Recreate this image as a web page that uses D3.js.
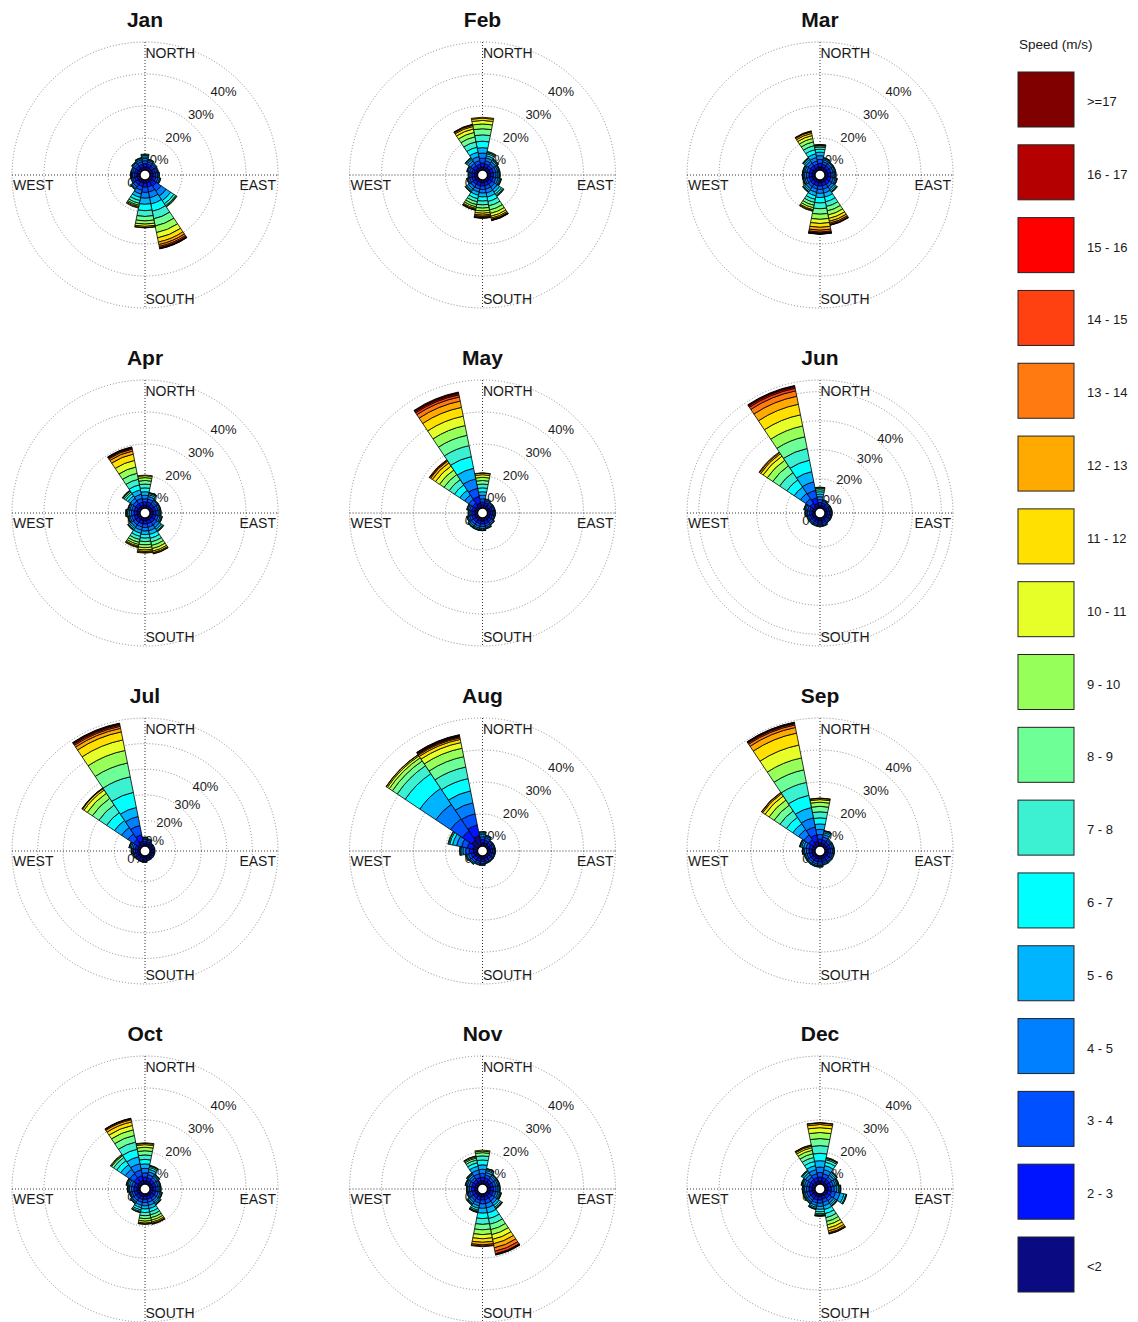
<!DOCTYPE html>
<html>
<head>
<meta charset="utf-8">
<script src="https://cdn.jsdelivr.net/npm/d3@7"></script>
<style>
  body { margin: 0; background: #fff; }
  svg { display: block; font-family: "Liberation Sans", Arial, sans-serif; }
</style>
</head>
<body>
<svg id="chart" width="1138" height="1322"></svg>
<script>
// Monthly wind roses: frequency (%) per direction sector, stacked by speed class.
const months = ["Jan", "Feb", "Mar", "Apr", "May", "Jun", "Jul", "Aug", "Sep", "Oct", "Nov", "Dec"];
const directions = ["N", "NNE", "NE", "ENE", "E", "ESE", "SE", "SSE", "S", "SSW", "SW", "WSW", "W", "WNW", "NW", "NNW"];
const speedLabels = ["<2", "2 - 3", "3 - 4", "4 - 5", "5 - 6", "6 - 7", "7 - 8", "8 - 9", "9 - 10",
                     "10 - 11", "11 - 12", "12 - 13", "13 - 14", "14 - 15", "15 - 16", "16 - 17", ">=17"];
const speedColors = ["#0a0a82", "#0014ff", "#0050ff", "#0080ff", "#00b4ff", "#00ffff", "#3cf0d2", "#6eff96", "#96ff5a",
                     "#e6ff28", "#ffe000", "#ffaa00", "#ff7a10", "#ff4010", "#ff0000", "#b40000", "#800000"];
const ringTicks = [0, 10, 20, 30, 40];
const compassLabels = ["NORTH", "SOUTH", "WEST", "EAST"];
// Frequency at the outer circle of each rose
const outerPct = [40, 40, 40, 40, 40, 44, 50, 40, 40, 40, 40, 40];

// Per month: 16 sectors (N, NNE, ... NNW), each listing % per speed class from "<2" upward
const jan = [
  [1.0,1.0,0.9,0.7,0.5,0.4,0.3,0.2],
  [1.0,0.9,0.7,0.5,0.3,0.1],
  [1.0,0.8,0.6,0.4,0.2],
  [1.0,0.8,0.5,0.3,0.2],
  [1.0,0.8,0.6,0.4,0.2],
  [1.0,0.9,0.7,0.5,0.3,0.1],
  [1.2,1.5,1.8,1.9,1.7,1.2,0.7,0.3,0.2],
  [1.0,1.3,1.6,1.8,2.0,2.3,2.4,2.3,2.1,1.7,1.3,0.8,0.6,0.4,0.2,0.1,0.1],
  [1.0,1.3,1.6,1.8,1.9,2.0,1.8,1.4,1.0,0.7,0.4,0.1],
  [1.0,1.1,1.2,1.2,1.1,1.0,0.9,0.6,0.4,0.3,0.2],
  [1.1,1.0,0.8,0.6,0.3,0.2],
  [1.0,0.8,0.6,0.4,0.2],
  [1.0,0.8,0.6,0.3,0.2,0.1],
  [1.0,0.8,0.6,0.4,0.2],
  [1.0,0.9,0.7,0.5,0.3,0.1],
  [1.0,0.9,0.8,0.6,0.4,0.2,0.1]
];
const feb = [
  [1.0,1.2,1.5,1.6,1.7,2.0,2.0,1.9,1.5,1.1,0.7,0.3],
  [1.0,1.0,1.0,0.9,0.7,0.6,0.4,0.2,0.2],
  [1.0,0.9,0.8,0.7,0.5,0.3,0.2,0.1],
  [1.0,0.9,0.8,0.6,0.4,0.2,0.1],
  [1.0,0.9,0.8,0.6,0.4,0.2,0.1],
  [1.0,0.9,0.8,0.7,0.5,0.3,0.2,0.1],
  [1.0,1.0,1.0,1.0,0.9,0.7,0.5,0.3,0.1],
  [0.9,1.0,1.1,1.2,1.3,1.4,1.4,1.3,1.1,0.9,0.6,0.4,0.2,0.1,0.1],
  [0.9,1.0,1.1,1.1,1.2,1.3,1.2,1.0,0.9,0.7,0.6,0.4,0.3,0.2,0.1],
  [0.9,1.0,1.0,1.0,1.0,1.1,1.0,0.9,0.7,0.5,0.3,0.2,0.1],
  [1.0,1.0,0.9,0.8,0.6,0.4,0.2,0.1],
  [1.0,0.9,0.7,0.5,0.3,0.1],
  [1.0,0.8,0.6,0.4,0.2],
  [1.0,0.9,0.7,0.5,0.3,0.1],
  [1.0,1.0,0.9,0.8,0.6,0.4,0.2,0.1],
  [0.9,1.0,1.1,1.3,1.4,1.6,1.7,1.6,1.4,1.1,0.8,0.4,0.2,0.1]
];
const mar = [
  [1.0,1.1,1.2,1.2,1.1,0.9,0.7,0.4,0.2,0.1,0.1],
  [1.0,0.9,0.8,0.6,0.4,0.2,0.1],
  [1.0,0.9,0.7,0.5,0.3,0.1],
  [1.0,0.9,0.7,0.5,0.3,0.1],
  [1.0,0.9,0.7,0.5,0.3,0.1],
  [1.0,0.9,0.8,0.6,0.4,0.2,0.1],
  [1.0,1.0,0.9,0.8,0.6,0.4,0.2,0.1],
  [0.9,1.0,1.1,1.2,1.3,1.5,1.5,1.4,1.3,1.1,0.9,0.6,0.4,0.2,0.1],
  [0.9,1.0,1.1,1.2,1.3,1.7,1.8,1.7,1.6,1.3,1.2,0.9,0.6,0.3,0.2,0.1,0.1],
  [0.9,1.0,1.0,1.1,1.1,1.1,1.0,0.9,0.8,0.6,0.3,0.2],
  [1.0,1.0,0.9,0.8,0.6,0.4,0.2,0.1],
  [1.0,0.9,0.8,0.6,0.4,0.2,0.1],
  [1.0,0.9,0.8,0.6,0.4,0.2,0.1],
  [1.0,0.9,0.8,0.6,0.4,0.2,0.1],
  [1.0,1.0,0.9,0.8,0.6,0.4,0.2,0.1],
  [0.9,1.0,1.0,1.1,1.2,1.3,1.3,1.2,1.1,0.9,0.7,0.5,0.2,0.1]
];
const apr = [
  [0.9,1.0,1.0,1.1,1.1,1.2,1.2,1.1,0.9,0.6,0.2],
  [1.0,1.0,0.9,0.8,0.6,0.4,0.2,0.1],
  [1.0,0.9,0.7,0.5,0.3,0.1],
  [1.0,0.9,0.7,0.5,0.3,0.1],
  [1.0,0.9,0.7,0.5,0.3,0.1],
  [1.0,0.9,0.8,0.6,0.4,0.2,0.1],
  [1.0,1.0,1.0,0.9,0.7,0.5,0.3,0.1],
  [0.9,1.0,1.1,1.1,1.2,1.2,1.2,1.1,1.0,0.8,0.5,0.3,0.1],
  [0.9,1.0,1.1,1.1,1.1,1.1,1.1,1.0,0.9,0.7,0.5,0.3,0.2],
  [0.9,1.0,1.0,1.0,1.0,1.0,1.0,0.9,0.7,0.5,0.3,0.2],
  [1.0,1.0,0.9,0.8,0.6,0.4,0.2,0.1],
  [1.0,0.9,0.8,0.6,0.4,0.2,0.1],
  [1.0,0.9,0.8,0.7,0.5,0.3,0.2,0.1],
  [1.0,0.9,0.8,0.6,0.4,0.2,0.1],
  [1.0,1.0,1.0,1.0,0.9,0.8,0.6,0.4,0.2,0.1],
  [0.9,1.0,1.2,1.3,1.4,1.6,1.8,1.9,2.0,2.1,2.0,1.0,0.6,0.3,0.2,0.1,0.1]
];
const may = [
  [0.9,1.0,1.0,1.1,1.1,1.2,1.2,1.1,1.0,0.8,0.5,0.1],
  [1.0,0.8,0.6,0.4,0.2],
  [0.9,0.7,0.5,0.3,0.1],
  [0.9,0.7,0.5,0.3,0.1],
  [0.9,0.7,0.5,0.3,0.1],
  [0.9,0.7,0.5,0.3,0.1],
  [1.0,0.8,0.6,0.4,0.2],
  [1.0,0.9,0.7,0.5,0.3,0.1],
  [1.0,0.9,0.8,0.6,0.4,0.2,0.1],
  [1.0,0.9,0.8,0.6,0.4,0.2,0.1],
  [1.0,0.9,0.8,0.6,0.4,0.2,0.1],
  [1.0,0.9,0.7,0.5,0.3,0.1],
  [1.0,0.8,0.6,0.4,0.2],
  [1.0,0.9,0.7,0.5,0.3,0.1],
  [1.0,1.2,1.4,1.6,1.8,2.0,2.0,1.9,1.7,1.5,1.2,0.7,0.3,0.2],
  [1.6,2.1,2.6,3.0,3.4,3.7,3.5,3.3,3.1,3.0,2.8,2.0,1.3,0.7,0.4,0.3,0.2]
];
const jun = [
  [0.9,1.0,1.0,1.0,0.9,0.8,0.7,0.5,0.3,0.1],
  [1.0,0.8,0.6,0.4,0.2],
  [0.9,0.7,0.5,0.3,0.1],
  [0.9,0.7,0.5,0.3,0.1],
  [0.9,0.7,0.5,0.3,0.1],
  [0.9,0.7,0.5,0.3,0.1],
  [0.9,0.7,0.5,0.3,0.1],
  [1.0,0.8,0.6,0.4,0.2],
  [1.0,0.8,0.6,0.4,0.2],
  [1.0,0.8,0.6,0.4,0.2],
  [1.0,0.8,0.6,0.4,0.2],
  [1.0,0.8,0.6,0.4,0.2],
  [1.0,0.9,0.7,0.5,0.3,0.1],
  [1.0,0.9,0.8,0.6,0.4,0.2,0.1],
  [1.0,1.4,1.8,2.2,2.6,3.0,3.0,2.8,2.3,1.7,1.0,0.5,0.2],
  [1.6,2.0,2.6,3.0,3.6,4.0,4.1,4.1,3.8,3.9,3.7,2.8,1.9,0.9,0.5,0.3,0.2]
];
const jul = [
  [1.0,0.9,0.7,0.5,0.3,0.1],
  [1.0,0.8,0.6,0.4,0.2],
  [0.8,0.6,0.4,0.2],
  [0.8,0.6,0.4,0.2],
  [0.8,0.6,0.4,0.2],
  [0.8,0.6,0.4,0.2],
  [0.8,0.6,0.4,0.2],
  [0.8,0.6,0.4,0.2],
  [0.9,0.7,0.5,0.3,0.1],
  [0.9,0.7,0.5,0.3,0.1],
  [0.9,0.7,0.5,0.3,0.1],
  [1.0,0.8,0.6,0.4,0.2],
  [1.0,0.9,0.7,0.5,0.3,0.1],
  [1.0,1.0,0.9,0.7,0.5,0.3,0.1],
  [1.5,2.0,2.6,3.0,3.3,3.7,3.6,3.1,2.4,1.5,0.7,0.2,0.1],
  [2.0,2.5,3.7,3.6,3.6,6.0,6.2,5.5,5.0,4.2,3.2,1.4,0.8,0.5,0.4,0.2,0.2]
];
const aug = [
  [1.0,1.0,0.9,0.7,0.5,0.3,0.1],
  [1.0,0.9,0.7,0.5,0.3,0.1],
  [0.9,0.7,0.5,0.3,0.1],
  [0.9,0.7,0.5,0.3,0.1],
  [0.9,0.7,0.5,0.3,0.1],
  [0.9,0.7,0.5,0.3,0.1],
  [0.9,0.7,0.5,0.3,0.1],
  [0.9,0.7,0.5,0.3,0.1],
  [1.0,0.8,0.6,0.4,0.2],
  [1.0,0.8,0.6,0.4,0.2],
  [1.0,0.9,0.7,0.5,0.3,0.1],
  [1.1,1.0,0.8,0.6,0.3,0.2],
  [1.3,1.3,1.1,0.9,0.6,0.3,0.1],
  [1.5,1.8,1.8,1.6,1.3,0.9,0.4,0.2],
  [2.5,3.5,4.5,5.5,6.0,5.5,3.0,1.8,1.2,0.7,0.4,0.1],
  [3.3,3.4,3.6,3.5,3.8,3.9,3.7,3.3,2.7,1.8,1.0,0.5,0.3,0.2,0.2,0.2,0.1]
];
const sep = [
  [1.0,1.2,1.4,1.6,1.7,1.9,1.9,1.7,1.3,0.8,0.4,0.1],
  [1.0,1.0,0.9,0.8,0.6,0.4,0.2,0.1],
  [1.0,0.8,0.6,0.4,0.2],
  [1.0,0.8,0.6,0.4,0.2],
  [1.0,0.8,0.6,0.4,0.2],
  [1.0,0.8,0.6,0.4,0.2],
  [1.0,0.8,0.6,0.4,0.2],
  [1.0,0.8,0.6,0.4,0.2],
  [1.0,0.9,0.7,0.5,0.3,0.1],
  [1.0,0.9,0.7,0.5,0.3,0.1],
  [1.0,0.9,0.7,0.5,0.3,0.1],
  [1.0,0.9,0.7,0.5,0.3,0.1],
  [1.0,0.9,0.8,0.6,0.4,0.2,0.1],
  [1.0,1.0,0.9,0.8,0.6,0.4,0.2,0.1],
  [1.2,1.5,1.8,2.0,2.2,2.4,2.4,2.2,1.9,1.5,0.9,0.4,0.1],
  [1.6,2.0,2.5,2.9,3.3,3.9,4.1,4.0,3.8,4.1,3.8,1.8,0.8,0.4,0.2,0.2,0.1]
];
const oct = [
  [1.0,1.2,1.3,1.4,1.4,1.4,1.4,1.3,1.1,0.8,0.4,0.2],
  [1.0,1.0,1.0,0.9,0.8,0.6,0.4,0.2,0.1],
  [1.0,0.9,0.8,0.6,0.4,0.2,0.1],
  [1.0,0.9,0.7,0.5,0.3,0.1],
  [1.0,0.9,0.7,0.5,0.3,0.1],
  [1.0,0.9,0.8,0.6,0.4,0.2,0.1],
  [1.0,0.9,0.8,0.7,0.5,0.3,0.2,0.1],
  [0.8,0.9,1.0,1.0,1.0,1.0,1.0,0.9,0.8,0.6,0.4,0.2,0.1],
  [0.8,0.9,1.0,1.0,1.0,1.1,1.0,0.9,0.8,0.6,0.3,0.1],
  [0.9,0.9,0.9,0.9,0.8,0.7,0.5,0.3,0.1],
  [1.0,0.9,0.8,0.6,0.4,0.2,0.1],
  [1.0,0.9,0.7,0.5,0.3,0.1],
  [1.0,0.9,0.8,0.6,0.4,0.2,0.1],
  [1.0,0.9,0.8,0.7,0.5,0.3,0.2,0.1],
  [1.2,1.4,1.6,1.7,1.7,1.5,1.2,0.7,0.3,0.2],
  [1.2,1.5,1.8,2.0,2.2,2.4,2.3,2.1,1.8,1.4,1.1,0.7,0.3,0.1,0.1]
];
const nov = [
  [1.0,1.1,1.2,1.3,1.4,1.5,1.3,1.0,0.5,0.3],
  [1.0,1.0,0.9,0.8,0.6,0.4,0.2,0.1],
  [1.0,0.9,0.8,0.6,0.4,0.2,0.1],
  [1.0,0.9,0.8,0.6,0.4,0.2,0.1],
  [1.0,0.9,0.8,0.6,0.4,0.2,0.1],
  [1.0,0.9,0.8,0.7,0.5,0.3,0.2,0.1],
  [1.0,1.0,1.0,0.9,0.8,0.6,0.4,0.2,0.1],
  [0.9,1.0,1.2,1.4,1.6,1.8,1.8,1.7,1.6,1.5,1.4,1.3,1.1,0.8,0.2,0.1,0.1],
  [0.9,1.0,1.2,1.4,1.5,1.7,1.8,1.7,1.5,1.3,1.1,0.8,0.4,0.2],
  [1.0,1.0,0.9,0.9,0.8,0.6,0.4,0.2,0.1,0.1],
  [1.0,0.9,0.8,0.7,0.5,0.3,0.2,0.1],
  [1.0,0.9,0.7,0.5,0.3,0.1],
  [1.0,0.9,0.7,0.5,0.3,0.1],
  [1.0,0.9,0.8,0.6,0.4,0.2,0.1],
  [1.0,0.9,0.8,0.7,0.5,0.3,0.2,0.1],
  [1.0,1.1,1.2,1.2,1.2,1.1,0.9,0.6,0.4,0.2,0.1]
];
const dec = [
  [1.0,1.2,1.4,1.7,2.0,2.3,2.4,2.2,1.9,1.5,1.0,0.5,0.1],
  [1.0,1.1,1.2,1.3,1.3,1.1,0.8,0.4,0.2,0.1],
  [1.0,1.0,0.9,0.8,0.6,0.4,0.2,0.1],
  [1.0,0.9,0.8,0.7,0.5,0.3,0.2,0.1],
  [1.0,1.0,0.9,0.8,0.6,0.4,0.2,0.1],
  [1.0,1.1,1.3,1.4,1.3,0.6,0.2,0.1],
  [1.0,1.0,0.9,0.8,0.6,0.4,0.2,0.1],
  [0.8,0.9,1.0,1.1,1.2,1.3,1.3,1.2,1.1,1.0,0.9,0.6,0.3,0.1],
  [0.9,1.0,1.0,1.0,0.9,0.8,0.6,0.4,0.2,0.1,0.1],
  [1.0,1.0,0.9,0.8,0.6,0.4,0.2,0.1],
  [1.0,0.9,0.8,0.6,0.4,0.2,0.1],
  [1.0,0.9,0.8,0.6,0.4,0.2,0.1],
  [1.0,0.9,0.8,0.6,0.4,0.2,0.1],
  [1.0,0.9,0.8,0.7,0.5,0.3,0.2,0.1],
  [1.0,1.0,1.0,0.9,0.7,0.5,0.3,0.1],
  [1.0,1.1,1.2,1.3,1.3,1.3,1.3,1.2,1.1,0.8,0.5,0.3,0.1]
];
const monthData = [jan, feb, mar, apr, may, jun, jul, aug, sep, oct, nov, dec];

const svg = d3.select("#chart");
const HOLE = 5;       // radius of the calm-centre hole
const OUTER = 133;    // radius of the outer circle
const sectorAngle = 2 * Math.PI / directions.length;

months.forEach((name, i) => {
  const col = i % 3, row = Math.floor(i / 3);
  const cx = 145 + col * 337.5, cy = 175 + row * 338;
  const g = svg.append("g").attr("transform", `translate(${cx},${cy})`);
  const r = d3.scaleLinear().domain([0, outerPct[i]]).range([HOLE, OUTER]);

  g.append("text")
    .attr("x", 0).attr("y", -148)
    .attr("text-anchor", "middle")
    .attr("font-weight", "bold").attr("font-size", 21).attr("fill", "#111")
    .text(name);

  // dotted frequency circles
  const rings = ringTicks.filter(t => t > 0 && t <= outerPct[i]);
  if (rings[rings.length - 1] < outerPct[i]) rings.push(outerPct[i]);
  g.selectAll("circle.ring").data(rings).join("circle")
    .attr("class", "ring")
    .attr("r", d => r(d))
    .attr("fill", "none").attr("stroke", "#8a8a8a")
    .attr("stroke-width", 1).attr("stroke-dasharray", "1,2");

  // dotted cross axes
  g.append("line").attr("x1", -OUTER).attr("x2", OUTER).attr("y1", 0).attr("y2", 0)
    .attr("stroke", "#333").attr("stroke-width", 1).attr("stroke-dasharray", "1,2");
  g.append("line").attr("x1", 0).attr("x2", 0).attr("y1", -OUTER).attr("y2", OUTER)
    .attr("stroke", "#333").attr("stroke-width", 1).attr("stroke-dasharray", "1,2");

  // compass labels
  const cl = g.append("g").attr("font-size", 14).attr("fill", "#1a1a1a");
  cl.append("text").attr("x", 0.5).attr("y", -117).text(compassLabels[0]);
  cl.append("text").attr("x", 0.5).attr("y", 128.5).text(compassLabels[1]);
  cl.append("text").attr("x", -OUTER + 1).attr("y", 14.5).text(compassLabels[2]);
  cl.append("text").attr("x", OUTER - 2).attr("y", 14.5).attr("text-anchor", "end").text(compassLabels[3]);

  // percentage labels along the NE diagonal
  g.selectAll("text.pct").data(ringTicks).join("text")
    .attr("class", "pct")
    .attr("x", d => r(d) * Math.SQRT1_2 - 2.5)
    .attr("y", d => -r(d) * Math.SQRT1_2 + 15.5)
    .attr("text-anchor", "end").attr("font-size", 13).attr("fill", "#1a1a1a")
    .text(d => d + "%");

  // stacked sectors
  const segs = [];
  monthData[i].forEach((bins, d) => {
    let cum = 0;
    bins.forEach((v, b) => {
      segs.push({ dir: d, bin: b, from: cum, to: cum + v });
      cum += v;
    });
  });
  const arc = d3.arc()
    .innerRadius(s => r(s.from))
    .outerRadius(s => r(s.to))
    .startAngle(s => (s.dir - 0.5) * sectorAngle)
    .endAngle(s => (s.dir + 0.5) * sectorAngle);
  g.selectAll("path.seg").data(segs).join("path")
    .attr("class", "seg")
    .attr("d", arc)
    .attr("fill", s => speedColors[s.bin])
    .attr("stroke", "#000").attr("stroke-width", 0.8)
    .attr("stroke-linejoin", "round");

  g.append("circle").attr("r", HOLE)
    .attr("fill", "#fff").attr("stroke", "#000").attr("stroke-width", 1.3);
});

// speed legend
const legend = svg.append("g");
legend.append("text").attr("x", 1019).attr("y", 49)
  .attr("font-size", 13.5).attr("fill", "#1a1a1a").text("Speed (m/s)");
const legendOrder = d3.range(speedLabels.length).reverse();
const ly = d3.scaleLinear().domain([0, legendOrder.length - 1]).range([72, 1237]);
legend.selectAll("rect").data(legendOrder).join("rect")
  .attr("x", 1018).attr("y", (b, k) => ly(k))
  .attr("width", 56).attr("height", 55)
  .attr("fill", b => speedColors[b])
  .attr("stroke", "#222").attr("stroke-width", 1);
legend.selectAll("text.lab").data(legendOrder).join("text")
  .attr("class", "lab")
  .attr("x", 1087).attr("y", (b, k) => ly(k) + 34)
  .attr("font-size", 13).attr("fill", "#1a1a1a")
  .text(b => speedLabels[b]);
</script>
</body>
</html>
